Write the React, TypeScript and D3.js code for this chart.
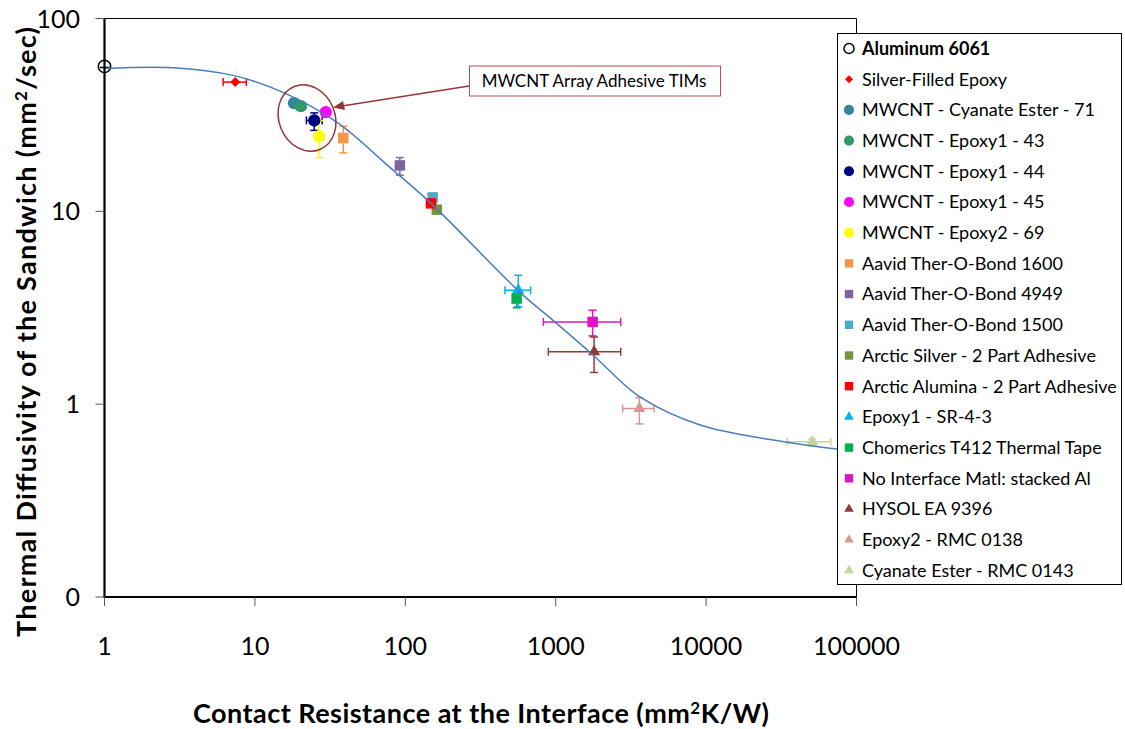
import React from 'react';
import * as d3 from 'd3';

// legend / series info
const materials = [
  'Aluminum 6061',
  'Silver-Filled Epoxy',
  'MWCNT - Cyanate Ester - 71',
  'MWCNT - Epoxy1 - 43',
  'MWCNT - Epoxy1 - 44',
  'MWCNT - Epoxy1 - 45',
  'MWCNT - Epoxy2 - 69',
  'Aavid Ther-O-Bond 1600',
  'Aavid Ther-O-Bond 4949',
  'Aavid Ther-O-Bond 1500',
  'Arctic Silver - 2 Part Adhesive',
  'Arctic Alumina - 2 Part Adhesive',
  'Epoxy1 - SR-4-3',
  'Chomerics T412 Thermal Tape',
  'No Interface Matl: stacked  Al',
  'HYSOL EA 9396',
  'Epoxy2 - RMC 0138',
  'Cyanate Ester - RMC 0143',
];
const colors = [
  '#000000', '#FF0000', '#31859C', '#2E9A68', '#000080', '#FF00FF', '#FFFF00',
  '#F79646', '#8064A2', '#4BACC6', '#77933C', '#FF0000', '#00B0F0', '#00B050',
  '#DD14C3', '#953735', '#D99694', '#C3D69B',
];
const shapes = [
  'open', 'diamond', 'circle', 'circle', 'circle', 'circle', 'circle',
  'square', 'square', 'square', 'square', 'square', 'triangle', 'square',
  'square', 'triangle', 'triangle', 'triangle',
];

// measured points
const contactResistance = [1, 7.4, 18.2, 20.2, 24.8, 29.6, 26.8, 38.7, 92, 152, 162, 148, 564, 550, 1760, 1800, 3600, 50800];
const diffusivity = [56.4, 46.8, 36.4, 35.1, 29.6, 32.7, 24.5, 24.0, 17.3, 11.8, 10.2, 11.0, 3.9, 3.53, 2.67, 1.87, 0.95, 0.638];
const xErrLow = [0.93, 6.15, null, null, 22.0, null, null, null, null, null, null, null, 460, null, 828, 893, 2787, 34700];
const xErrHigh = [1.08, 8.77, null, null, 28.0, null, null, null, null, null, null, null, 682, null, 2706, 2706, 4507, 67400];
const yErrLow = [null, null, null, null, 26.3, null, 19.0, 20.1, 15.4, 11.0, null, null, 3.2, 3.16, 2.26, 1.46, 0.79, 0.61];
const yErrHigh = [null, null, null, null, 32.4, null, 29.6, 27.6, 19.0, 12.4, null, null, 4.66, 3.8, 3.07, 2.23, 1.08, 0.66];

// model curve
const fitResistance = [1, 2.85, 7.15, 15.4, 35.2, 79, 150, 579, 960, 1770, 3635, 9120, 34500, 100000];
const fitDiffusivity = [55.1, 55.6, 50.7, 41.4, 28.9, 16.9, 10.9, 3.8, 2.72, 1.8, 1.09, 0.78, 0.635, 0.57];

const xTicks = [1, 10, 100, 1000, 10000, 100000];
const yTicks = [0.1, 1, 10, 100];
const yTickLabels = ['0', '1', '10', '100'];

const W = 1125, H = 729;
const left = 104.5, right = 856.5, top = 18.5, bottom = 597;
const font = "Lato, 'Open Sans', sans-serif";

function symbolPath(shape: string, big: boolean) {
  const k = big ? 1 : 0.8;
  if (shape === 'circle' || shape === 'open') return d3.symbol(d3.symbolCircle, (big ? 120 : 80))();
  if (shape === 'square') return d3.symbol(d3.symbolSquare, 110 * k * k)();
  if (shape === 'triangle') return d3.symbol(d3.symbolTriangle, 62 * k * k)();
  return d3.symbol(d3.symbolSquare, 50 * k * k)();
}

function Marker({ shape, color, x, y, big }: any) {
  const rot = shape === 'diamond' ? ' rotate(45)' : '';
  const open = shape === 'open';
  return (
    <path
      d={symbolPath(shape, big) || ''}
      transform={`translate(${x},${y})${rot}`}
      fill={open ? '#fff' : color}
      stroke={open ? '#000' : 'none'}
      strokeWidth={open ? 1.5 : 0}
    />
  );
}

export default function App() {
  const x = d3.scaleLog().domain([1, 1e5]).range([left, right]);
  const y = d3.scaleLog().domain([0.1, 100]).range([bottom, top]);
  const line = d3.line<number>()
    .x((d) => x(fitResistance[d]))
    .y((d) => y(fitDiffusivity[d]))
    .curve(d3.curveCatmullRom.alpha(0.5));
  const cap = 4;
  const legendTop = 48.5, legendStep = 30.7;

  return (
    <svg width={W} height={H} style={{ position: 'absolute', left: 0, top: 0, background: '#fff' }} fontFamily={font}>
      <rect width={W} height={H} fill="#fff" />
      {/* frame */}
      <line x1={left} x2={right} y1={top} y2={top} stroke="#000" strokeWidth={1} />
      <line x1={right} x2={right} y1={top} y2={bottom} stroke="#000" strokeWidth={1} />

      {/* error bars */}
      {materials.map((m, i) => {
        const cx = x(contactResistance[i]), cy = y(diffusivity[i]);
        const c = colors[i];
        const out: any[] = [];
        if (xErrLow[i] != null) {
          const a = x(xErrLow[i] as number), b = x(xErrHigh[i] as number);
          out.push(<line key="h" x1={a} x2={b} y1={cy} y2={cy} stroke={c} strokeWidth={1.5} />);
          out.push(<line key="ha" x1={a} x2={a} y1={cy - cap} y2={cy + cap} stroke={c} strokeWidth={1.5} />);
          out.push(<line key="hb" x1={b} x2={b} y1={cy - cap} y2={cy + cap} stroke={c} strokeWidth={1.5} />);
        }
        if (yErrLow[i] != null) {
          const a = y(yErrLow[i] as number), b = y(yErrHigh[i] as number);
          out.push(<line key="v" x1={cx} x2={cx} y1={a} y2={b} stroke={c} strokeWidth={1.5} />);
          out.push(<line key="va" x1={cx - cap} x2={cx + cap} y1={a} y2={a} stroke={c} strokeWidth={1.5} />);
          out.push(<line key="vb" x1={cx - cap} x2={cx + cap} y1={b} y2={b} stroke={c} strokeWidth={1.5} />);
        }
        return <g key={'e' + i}>{out}</g>;
      })}

      {/* markers */}
      {materials.map((m, i) => (
        <Marker key={'m' + i} shape={shapes[i]} color={colors[i]} big
          x={x(contactResistance[i])} y={y(diffusivity[i])} />
      ))}
      <line x1={x(0.93)} x2={x(1.08)} y1={y(diffusivity[0]) + 1} y2={y(diffusivity[0]) + 1} stroke="#000" strokeWidth={1.5} />

      {/* fitted curve */}
      <path d={line(d3.range(fitResistance.length)) || ''} fill="none" stroke="#4A7EBB" strokeWidth={1.5} />

      {/* axes */}
      <line x1={left} x2={left} y1={top - 0.5} y2={bottom} stroke="#000" strokeWidth={2.2} />
      <line x1={left - 1} x2={right} y1={bottom} y2={bottom} stroke="#000" strokeWidth={2.2} />
      {yTicks.map((t, i) => (
        <g key={'yt' + i}>
          <line x1={left - 9} x2={left} y1={y(t)} y2={y(t)} stroke="#555" strokeWidth={1} />
          <text x={80} y={y(t)} dy="0.36em" textAnchor="end" fontSize={25} fill="#000">{yTickLabels[i]}</text>
        </g>
      ))}
      {xTicks.map((t, i) => (
        <g key={'xt' + i}>
          <line x1={x(t)} x2={x(t)} y1={bottom} y2={bottom + 9} stroke="#555" strokeWidth={1} />
          <text x={x(t)} y={655} textAnchor="middle" fontSize={25} fill="#000">{d3.format('d')(t)}</text>
        </g>
      ))}

      {/* axis titles */}
      <text x={481} y={723} textAnchor="middle" fontSize={27} fontWeight="bold" fill="#000"
        textLength={576} lengthAdjust="spacing">
        Contact Resistance at the Interface (mm<tspan dy="-9" fontSize={17}>2</tspan><tspan dy="9">K/W)</tspan>
      </text>
      <text transform="translate(36,332) rotate(-90)" textAnchor="middle" fontSize={27} fontWeight="bold" fill="#000"
        textLength={610} lengthAdjust="spacing">
        Thermal Diffusivity of the Sandwich (mm<tspan dy="-9" fontSize={17}>2</tspan><tspan dy="9">/sec)</tspan>
      </text>

      {/* callout */}
      <ellipse cx={307} cy={118} rx={28} ry={34} transform="rotate(-22,307,118)" fill="none" stroke="#953735" strokeWidth={1.5} />
      <line x1={469} y1={86} x2={342} y2={106} stroke="#953735" strokeWidth={1.5} />
      <path d="M333,107.5 L343,101 L345,110 Z" fill="#953735" />
      <rect x={469.5} y={66} width={251} height={30} fill="#fff" stroke="#B5504F" strokeWidth={1} />
      <text x={594} y={81} dy="0.35em" textAnchor="middle" fontSize={17} fill="#000">MWCNT Array Adhesive TIMs</text>

      {/* legend */}
      <rect x={837.5} y={33.5} width={284} height={551} fill="#fff" stroke="#000" strokeWidth={1} />
      {materials.map((m, i) => (
        <g key={'l' + i} transform={`translate(0,${legendTop + i * legendStep})`}>
          <Marker shape={shapes[i]} color={colors[i]} big={false} x={849} y={0} />
          <text x={862} y={0} dy="0.35em" fontSize={18} fontWeight={i === 0 ? 'bold' : 'normal'} fill="#000">{m}</text>
        </g>
      ))}
    </svg>
  );
}
